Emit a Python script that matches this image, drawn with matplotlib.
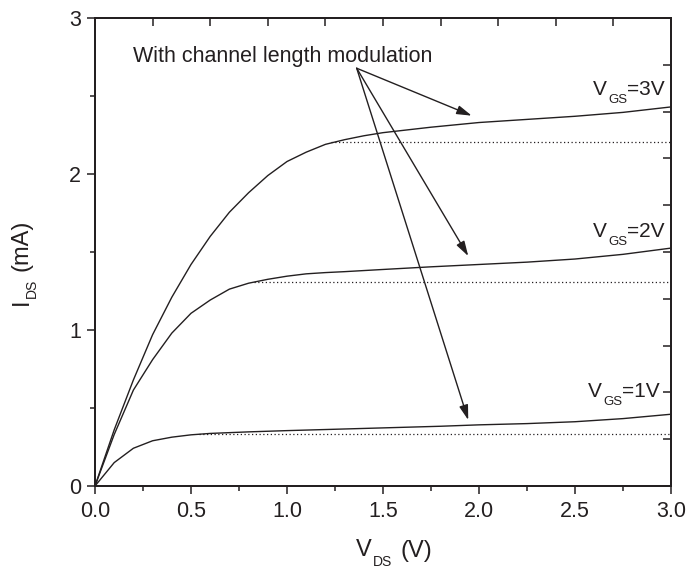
import numpy as np
import matplotlib
matplotlib.use("Agg")
import matplotlib.pyplot as plt
from matplotlib.transforms import offset_copy

plt.rcParams['font.family'] = ['Liberation Sans', 'DejaVu Sans']

ink = '#231f20'

# I-V curves with channel length modulation
vds_3 = [0, 0.1, 0.2, 0.3, 0.4, 0.5, 0.6, 0.7, 0.8, 0.9, 1.0, 1.1, 1.2, 1.3, 1.4, 1.5,
         1.75, 2.0, 2.25, 2.5, 2.75, 3.0]
ids_3 = [0, 0.36, 0.68, 0.97, 1.21, 1.42, 1.60, 1.755, 1.88, 1.99, 2.08, 2.14, 2.19, 2.22, 2.245, 2.265,
         2.30, 2.33, 2.35, 2.37, 2.395, 2.43]

vds_2 = [0, 0.1, 0.2, 0.3, 0.4, 0.5, 0.6, 0.7, 0.8, 0.9, 1.0, 1.1, 1.2, 1.3, 1.5,
         1.75, 2.0, 2.25, 2.5, 2.75, 3.0]
ids_2 = [0, 0.33, 0.615, 0.81, 0.98, 1.107, 1.192, 1.262, 1.30, 1.325, 1.345, 1.36, 1.368, 1.374, 1.388,
         1.405, 1.42, 1.435, 1.455, 1.485, 1.525]

vds_1 = [0, 0.1, 0.2, 0.3, 0.4, 0.5, 0.6, 0.8, 1.0, 1.2, 1.4, 1.6, 1.8, 2.0, 2.25, 2.5, 2.75, 3.0]
ids_1 = [0, 0.15, 0.242, 0.29, 0.313, 0.328, 0.337, 0.347, 0.355, 0.362, 0.369, 0.376, 0.383, 0.392,
         0.40, 0.412, 0.432, 0.46]

# ideal saturation (no modulation): start voltage and current level
sat_start = [0.54, 0.83, 1.23]
sat_level = [0.333, 1.306, 2.205]

curve_values = ['=1V', '=2V', '=3V']
label_pos = [(2.569, 0.572), (2.594, 1.598), (2.594, 2.506)]

note_text = 'With channel length modulation'
note_pos = (0.2, 2.716)
arrow_from = (1.363, 2.678)
arrow_to = [(1.962, 2.374), (1.944, 1.474), (1.944, 0.423)]

fig = plt.figure(figsize=(6.87, 5.70), dpi=100)
ax = fig.add_axes([95 / 687, 84 / 570, 576 / 687, 468 / 570])
renderer = fig.canvas.get_renderer()


def sub_text(x, y, parts, transform, rotation=0):
    # parts: (text, fontsize, drop in px, gap before in px); laid out along the baseline
    adv = 0.0
    for s, size, drop, gap in parts:
        adv += gap
        if rotation == 90:
            ox, oy = drop, adv
        else:
            ox, oy = adv, -drop
        t = fig.text(x, y, s, fontsize=size, color=ink, rotation=rotation,
                     rotation_mode='anchor', ha='left', va='baseline',
                     transform=offset_copy(transform, fig=fig, x=ox, y=oy, units='dots'))
        bb = t.get_window_extent(renderer)
        adv += bb.height if rotation == 90 else bb.width


for x, y in [(vds_1, ids_1), (vds_2, ids_2), (vds_3, ids_3)]:
    ax.plot(x, y, color=ink, lw=1.0)

for x0, lvl in zip(sat_start, sat_level):
    ax.plot([x0, 3.0], [lvl, lvl], color=ink, lw=0.9, ls=(0, (1, 2)))

for val, (x, y) in zip(curve_values, label_pos):
    sub_text(x, y, [('V', 15, 0, 0), ('GS', 9.5, 8, 1), (val, 15, 0, 0)], ax.transData)

ax.text(note_pos[0], note_pos[1], note_text, fontsize=15.5, color=ink, ha='left', va='baseline')
for tip in arrow_to:
    ax.annotate('', xy=tip, xytext=arrow_from,
                arrowprops=dict(arrowstyle='-|>,head_length=0.6,head_width=0.18',
                                mutation_scale=15, lw=1.0, color=ink,
                                shrinkA=0, shrinkB=0))

ax.set_xlim(0, 3.0)
ax.set_ylim(0, 3.0)
ax.set_xticks(np.arange(0, 3.01, 0.5))
ax.set_xticks(np.arange(0.25, 3.0, 0.5), minor=True)
ax.set_yticks([0, 1, 2, 3])
ax.set_yticks([0.5, 1.5, 2.5], minor=True)
ax.xaxis.set_major_formatter(matplotlib.ticker.FormatStrFormatter('%.1f'))
ax.tick_params(which='major', direction='out', length=6, width=1.1, labelsize=15.5,
               colors=ink, pad=5)
ax.tick_params(axis='y', which='major', pad=4)
ax.tick_params(which='minor', direction='out', length=3.5, width=1.1, colors=ink)

for sp in ax.spines.values():
    sp.set_linewidth(1.2)
    sp.set_color(ink)

# top and right axes carry unlabelled inward ticks every 0.3
top = ax.twiny()
top.set_xlim(0, 3.0)
top.set_xticks(np.arange(0, 3.01, 0.3))
top.tick_params(axis='x', direction='in', length=5.5, width=1.1, labeltop=False, colors=ink)
right = ax.twinx()
right.set_ylim(0, 3.0)
right.set_yticks(np.arange(0, 3.01, 0.3))
right.tick_params(axis='y', direction='in', length=5.5, width=1.1, labelright=False, colors=ink)
for a in (top, right):
    for sp in a.spines.values():
        sp.set_linewidth(1.2)
        sp.set_color(ink)

# axis titles with dropped subscripts
sub_text(356 / 687, (570 - 556.5) / 570,
         [('V', 17, 0, 0), ('DS', 10, 10, 1), ('(V)', 17, 0, 9)], fig.transFigure)
sub_text(28 / 687, (570 - 305) / 570,
         [('I', 17, 0, 0), ('DS', 10, 8, 1), ('(mA)', 17, 0, 7)], fig.transFigure, rotation=90)

fig.savefig('out.png', dpi=100)
